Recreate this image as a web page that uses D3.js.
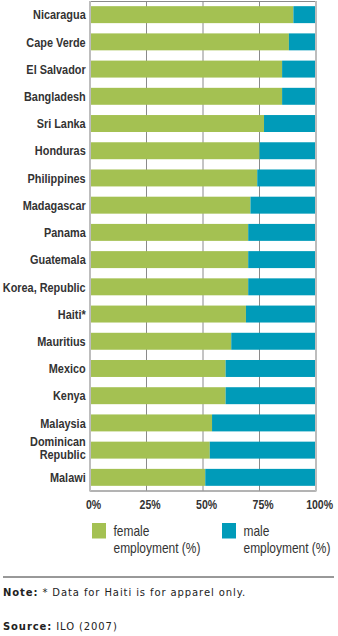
<!DOCTYPE html>
<html>
<head>
<meta charset="utf-8">
<script src="https://cdn.jsdelivr.net/npm/d3@7"></script>
<style>
  html, body { margin: 0; padding: 0; background: #fff; }
  svg { display: block; }
  .lab { font-family: "Liberation Sans", Arial, sans-serif; font-weight: bold; fill: #333; }
  .leg { font-family: "Liberation Sans", Arial, sans-serif; fill: #333; }
  .note { font-family: "DejaVu Sans", Verdana, sans-serif; fill: #222; letter-spacing: 0.9px; }
</style>
</head>
<body>
<script>
// Share of employment by sex, per country
const countries = ["Nicaragua", "Cape Verde", "El Salvador", "Bangladesh", "Sri Lanka", "Honduras",
  "Philippines", "Madagascar", "Panama", "Guatemala", "Korea, Republic", "Haiti*",
  "Mauritius", "Mexico", "Kenya", "Malaysia", "Dominican Republic", "Malawi"];
const female = [90, 88, 85, 85, 77, 75, 74, 71, 70, 70, 70, 69, 62.5, 60, 60, 54, 53, 51];
const male = female.map(f => 100 - f);
const ticks = [0, 25, 50, 75, 100];
const seriesNames = ["female employment (%)", "male employment (%)"];
const colors = ["#a4c152", "#009bb9"];

const W = 338, H = 636;
const svg = d3.select("body").append("svg").attr("width", W).attr("height", H);

// condensed face: squeeze a regular face horizontally so a sample string fits a set width
function squeezeFor(sample, cls, size, width) {
  const t = svg.append("text").attr("class", cls).attr("font-size", size).text(sample);
  const w = t.node().getComputedTextLength();
  t.remove();
  return Math.min(1, width / w);
}
const NARROW = squeezeFor("Korea, Republic", "lab", 13, 83);
const AXN = squeezeFor("100%", "lab", 12.5, 27);
const LEGN = squeezeFor("employment (%)", "leg", 14, 87);

const x = d3.scaleLinear().domain([0, 100]).range([90, 316]);
const y = d3.scaleBand().domain(countries).range([1, 491]).paddingInner(0.377).paddingOuter(0.19);

// vertical gridlines
svg.append("g").selectAll("line").data(ticks.slice(1, -1)).join("line")
  .attr("x1", d => x(d)).attr("x2", d => x(d))
  .attr("y1", 1).attr("y2", 491)
  .attr("stroke", "#8a8a8a").attr("stroke-width", 1);

// stacked bars
const rows = countries.map((c, i) => ({ c, f: female[i], m: male[i] }));
const stack = d3.stack().keys(["f", "m"])(rows);
svg.append("g").selectAll("g").data(stack).join("g")
  .attr("fill", (d, i) => colors[i])
  .selectAll("rect").data(d => d).join("rect")
  .attr("x", d => x(d[0]))
  .attr("width", d => x(d[1]) - x(d[0]))
  .attr("y", d => y(d.data.c))
  .attr("height", y.bandwidth());

// frame
svg.append("line").attr("x1", x(0)).attr("x2", x(100)).attr("y1", 1.5).attr("y2", 1.5).attr("stroke", "#8a8a8a");
svg.append("line").attr("x1", x(0)).attr("x2", x(100)).attr("y1", 491).attr("y2", 491).attr("stroke", "#9a9a9a").attr("stroke-width", 1.5);
svg.append("line").attr("x1", x(0)).attr("x2", x(0)).attr("y1", 1).attr("y2", 491.5).attr("stroke", "#bdbdbd").attr("stroke-width", 2);
svg.append("line").attr("x1", x(100)).attr("x2", x(100)).attr("y1", 1).attr("y2", 491.5).attr("stroke", "#bdbdbd").attr("stroke-width", 2);

// category labels (condensed)
const labX = 85.7 / NARROW;
const lab = svg.append("g").attr("transform", `scale(${NARROW},1)`)
  .selectAll("text").data(countries).join("text")
  .attr("class", "lab").attr("font-size", 13).attr("text-anchor", "end")
  .attr("x", labX)
  .attr("y", d => y(d) + y.bandwidth() / 2);
lab.each(function (d) {
  const t = d3.select(this);
  const cy = y(d) + y.bandwidth() / 2;
  if (d === "Dominican Republic") {
    t.append("tspan").attr("x", labX).attr("y", cy - 4.5).text("Dominican");
    t.append("tspan").attr("x", labX).attr("y", cy + 8.5).text("Republic");
  } else {
    t.attr("dy", "0.36em").text(d);
  }
});

// x axis labels (condensed)
const xn = x.copy().range(x.range().map(v => (v + 3.2) / AXN));
const xAxis = d3.axisBottom(xn).tickValues(ticks).tickSize(0).tickPadding(0).tickFormat(d => d + "%");
const ax = svg.append("g").attr("transform", `translate(0,500) scale(${AXN},1)`).call(xAxis);
ax.select(".domain").remove();
ax.selectAll("text").attr("class", "lab").attr("font-size", 12.5).attr("fill", "#333").attr("dy", "0.72em");

// legend
const legX = [92, 222];
seriesNames.forEach((name, i) => {
  const g = svg.append("g").attr("transform", `translate(${legX[i]},523)`);
  g.append("rect").attr("width", 14).attr("height", 15.5).attr("fill", colors[i]);
  const words = name.split(" ");
  const t = g.append("text").attr("class", "leg").attr("font-size", 14)
    .attr("transform", `scale(${LEGN},1)`).attr("y", 13.5);
  t.append("tspan").attr("x", 21.5 / LEGN).text(words[0]);
  t.append("tspan").attr("x", 21.5 / LEGN).attr("dy", 17).text(words.slice(1).join(" "));
});

// footnotes
svg.append("line").attr("x1", 3).attr("x2", 334).attr("y1", 577).attr("y2", 577).attr("stroke", "#333").attr("stroke-width", 1);
const n1 = svg.append("text").attr("class", "note").attr("font-size", 10).attr("x", 3).attr("y", 596);
n1.append("tspan").attr("font-weight", "bold").text("Note:");
n1.append("tspan").text(" * Data for Haiti is for apparel only.");
const n2 = svg.append("text").attr("class", "note").attr("font-size", 10).attr("x", 3).attr("y", 630);
n2.append("tspan").attr("font-weight", "bold").text("Source:");
n2.append("tspan").text(" ILO (2007)");
</script>
</body>
</html>
